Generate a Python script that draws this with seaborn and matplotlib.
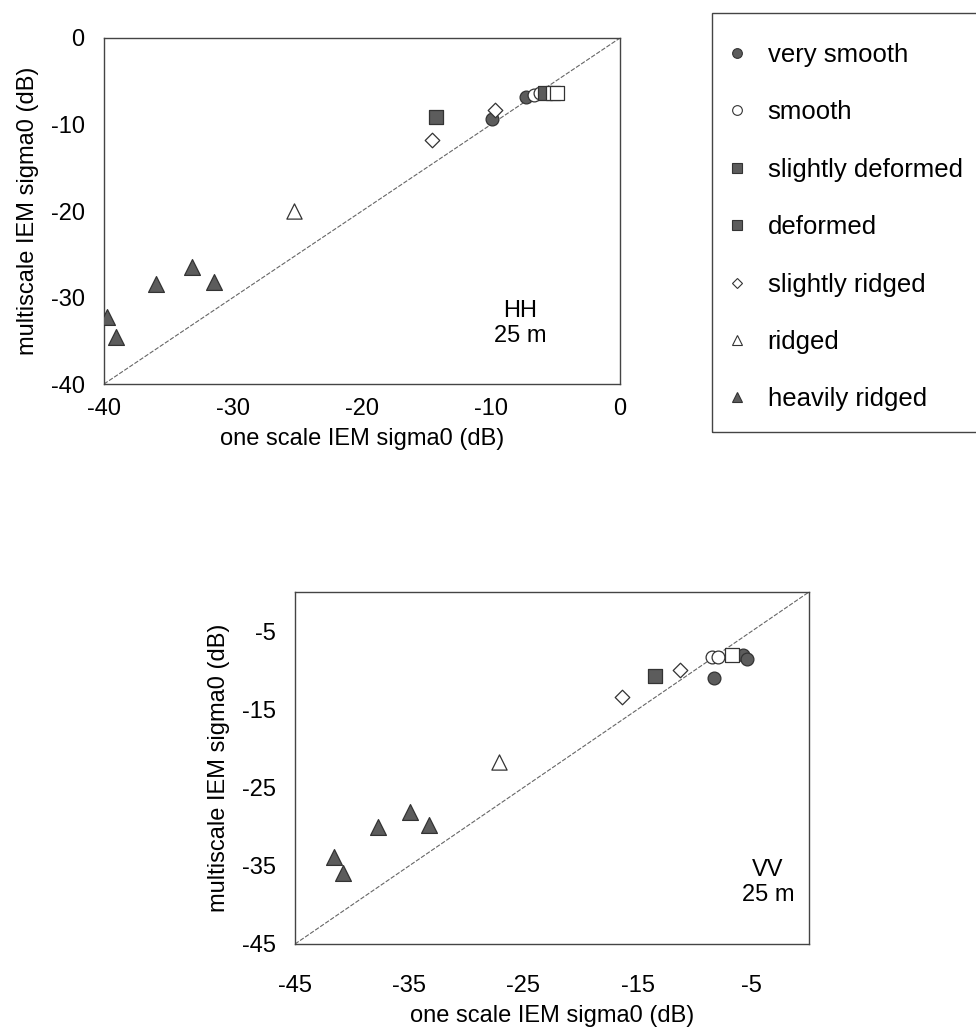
import matplotlib
matplotlib.use("Agg")
import matplotlib.pyplot as plt
from matplotlib.lines import Line2D
from matplotlib.patches import Rectangle
import numpy as np
import pandas as pd
import seaborn as sns

# Surface classes and their marker styles
classes = ["very smooth", "smooth", "slightly deformed", "deformed",
           "slightly ridged", "ridged", "heavily ridged"]
markers = ["o", "o", "s", "s", "D", "^", "^"]
faces = ["#5c5c5c", "white", "#5c5c5c", "white", "white", "white", "#5c5c5c"]
legend_faces = ["#5c5c5c", "white", "#5c5c5c", "#5c5c5c", "white", "white", "#5c5c5c"]
sizes = [85, 85, 95, 95, 55, 120, 130]

# HH polarisation, 25 m: one-scale (x) vs multiscale (y) IEM sigma0 in dB
hh_class = ["very smooth", "very smooth", "smooth", "smooth",
            "slightly deformed", "slightly deformed", "deformed", "deformed",
            "slightly ridged", "slightly ridged", "ridged",
            "heavily ridged", "heavily ridged", "heavily ridged",
            "heavily ridged", "heavily ridged"]
hh_one = [-9.9, -7.3, -6.7, -6.2, -14.3, -5.8, -5.2, -4.9,
          -14.6, -9.7, -25.3, -39.8, -39.1, -36.0, -33.2, -31.5]
hh_multi = [-9.4, -6.8, -6.6, -6.4, -9.1, -6.4, -6.4, -6.4,
            -11.8, -8.3, -20.0, -32.3, -34.6, -28.4, -26.5, -28.2]

# VV polarisation, 25 m
vv_class = ["very smooth", "very smooth", "very smooth", "smooth", "smooth",
            "slightly deformed", "deformed",
            "slightly ridged", "slightly ridged", "ridged",
            "heavily ridged", "heavily ridged", "heavily ridged",
            "heavily ridged", "heavily ridged"]
vv_one = [-8.3, -5.8, -5.4, -8.5, -8.0, -13.5, -6.7,
          -16.4, -11.3, -27.1, -41.6, -40.8, -37.7, -34.9, -33.3]
vv_multi = [-11.0, -8.1, -8.6, -8.3, -8.3, -10.7, -8.1,
            -13.4, -10.0, -21.7, -33.9, -35.9, -30.0, -28.1, -29.8]

hh_ticks = [-40, -30, -20, -10, 0]
vv_ticks = [-45, -35, -25, -15, -5]

sns.set_theme(style="white")
plt.rcParams["font.family"] = ["Liberation Sans", "DejaVu Sans"]
plt.rcParams["axes.unicode_minus"] = False
plt.rcParams["text.color"] = "black"
plt.rcParams["axes.labelcolor"] = "black"
plt.rcParams["xtick.color"] = "black"
plt.rcParams["ytick.color"] = "black"

W, H = 976, 1034
fig = plt.figure(figsize=(W / 100, H / 100), dpi=100)
ax1 = fig.add_axes([104 / W, 1 - 384 / H, 516 / W, 346 / H])
ax2 = fig.add_axes([295 / W, 1 - 944 / H, 514 / W, 352 / H])


def draw_panel(ax, cls, xs, ys, lims, ticks, tag, tag_x, xpad):
    df = pd.DataFrame({"cls": cls, "one": xs, "multi": ys})
    # 1:1 reference line across the plotting range
    ax.plot(lims, lims, color="#666666", lw=0.8, ls=(0, (4, 1.5)), zorder=1)
    for name, m, fc, s in zip(classes, markers, faces, sizes):
        sub = df[df["cls"] == name]
        if sub.empty:
            continue
        sns.scatterplot(data=sub, x="one", y="multi", marker=m, s=s,
                        color=fc, edgecolor="#333333", linewidth=0.9,
                        ax=ax, legend=False, zorder=3)
    ax.set_xlim(lims)
    ax.set_ylim(lims)
    ax.set_xticks(ticks)
    ax.set_yticks(ticks)
    ax.set_xlabel("one scale IEM sigma0 (dB)", fontsize=17, labelpad=6)
    ax.set_ylabel("multiscale IEM sigma0 (dB)", fontsize=17, labelpad=8)
    ax.tick_params(axis="both", labelsize=17, length=4, width=0.8,
                   direction="in", color="#333333")
    ax.tick_params(axis="y", pad=14)
    ax.tick_params(axis="x", pad=xpad)
    for sp in ax.spines.values():
        sp.set_visible(True)
        sp.set_color("#444444")
        sp.set_linewidth(1.0)
    ax.text(tag_x, 0.175, f"{tag}\n25 m", transform=ax.transAxes,
            ha="center", va="center", fontsize=17, linespacing=1.2)


draw_panel(ax1, hh_class, hh_one, hh_multi, (-40, 0), hh_ticks, "HH", 0.806, 10)
draw_panel(ax2, vv_class, vv_one, vv_multi, (-45, 0), vv_ticks, "VV", 0.92, 22)

# Legend box running off the right edge of the figure
fig.patches.append(Rectangle((712 / W, 1 - 432 / H), 300 / W, 419 / H,
                             transform=fig.transFigure, fill=False,
                             edgecolor="#444444", linewidth=1.0))

handles = [Line2D([], [], ls="none", marker=m, markersize=7 if m != "D" else 5.5,
                  markerfacecolor=fc, markeredgecolor="#333333",
                  markeredgewidth=0.8)
           for m, fc in zip(markers, legend_faces)]
leg = fig.legend(handles, classes, loc="upper left",
                 bbox_to_anchor=(724 / W, 1 - 43 / H),
                 frameon=False, fontsize=18.5, labelspacing=1.3,
                 handletextpad=0.7, handlelength=1.0, borderpad=0,
                 borderaxespad=0)

fig.savefig("out.png", dpi=100)
